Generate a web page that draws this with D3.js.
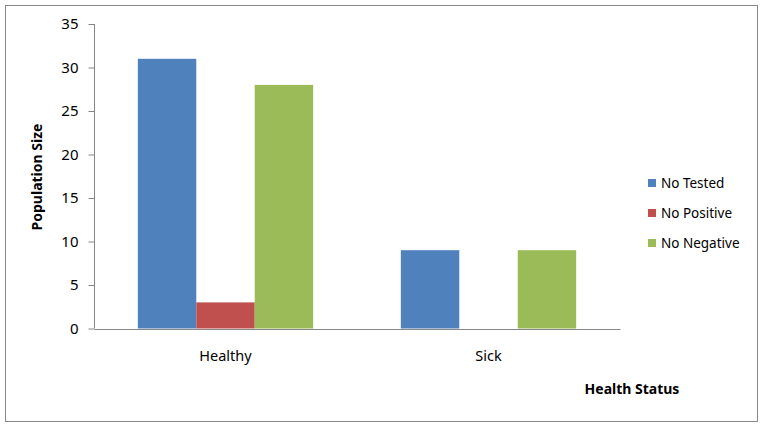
<!DOCTYPE html>
<html><head><meta charset="utf-8">
<script src="https://cdn.jsdelivr.net/npm/d3@7"></script>
<style>
html,body{margin:0;padding:0;background:#fff;}
svg{display:block;font-family:Tahoma,"Noto Sans","DejaVu Sans",sans-serif;}
</style></head>
<body>
<svg id="chart" width="763" height="427"></svg>
<script>
const categories = ["Healthy", "Sick"];
const seriesNames = ["No Tested", "No Positive", "No Negative"];
const noTested = [31, 9];
const noPositive = [3, 0];
const noNegative = [28, 9];
const yTicks = [0, 5, 10, 15, 20, 25, 30, 35];
const colors = ["#4f81bd", "#c0504d", "#9bbb59"];

const seriesValues = [noTested, noPositive, noNegative];
const svg = d3.select("#chart");

svg.append("rect").attr("x", 5.5).attr("y", 5.5).attr("width", 752).attr("height", 416)
  .attr("fill", "#fff").attr("stroke", "#888").attr("stroke-width", 1);

const plot = {left: 94, right: 620, top: 24, bottom: 328.5};
const x = d3.scaleBand().domain(categories).range([plot.left, plot.right]).paddingInner(0).paddingOuter(0);
const x1 = d3.scaleBand().domain(seriesNames).range([0, x.bandwidth()]).paddingInner(0).paddingOuter(0.75);
const y = d3.scaleLinear().domain([0, 35]).range([plot.bottom, plot.top]);

const fontSize = 14.5;
const table = categories.map((c, i) => ({cat: c, vals: seriesNames.map((s, j) => ({s, v: seriesValues[j][i], j}))}));

const g = svg.append("g");
g.selectAll("g.cat").data(table).join("g").attr("class", "cat")
  .attr("transform", d => `translate(${x(d.cat)},0)`)
  .selectAll("rect").data(d => d.vals).join("rect")
  .attr("x", d => x1(d.s)).attr("width", x1.bandwidth())
  .attr("y", d => y(d.v)).attr("height", d => y(0) - y(d.v))
  .attr("fill", d => colors[d.j]);

// y axis
const yAxis = d3.axisLeft(y).tickValues(yTicks).tickSize(6).tickPadding(10).tickFormat(d3.format("d"));
const ya = svg.append("g").attr("transform", `translate(${plot.left + 0.5},0)`).call(yAxis);
ya.select(".domain").attr("stroke", "#868686").attr("d", `M-0,${plot.bottom}V${plot.top}`);
ya.selectAll(".tick line").attr("stroke", "#868686");
ya.selectAll(".tick text").attr("font-size", 15).attr("fill", "#000")
  .attr("font-family", "Tahoma,'Noto Sans',sans-serif");

// x axis
const xAxis = d3.axisBottom(x).tickSize(0).tickPadding(22);
const xa = svg.append("g").attr("transform", `translate(0,${plot.bottom + 0.5})`).call(xAxis);
xa.select(".domain").attr("stroke", "#868686");
xa.selectAll(".tick text").attr("font-size", fontSize).attr("fill", "#000")
  .attr("font-family", "Tahoma,'Noto Sans',sans-serif");

// axis titles
svg.append("text").attr("transform", "translate(42,177) rotate(-90)")
  .attr("text-anchor", "middle").attr("font-weight", "bold").attr("font-size", 14)
  .text("Population Size");
svg.append("text").attr("x", 632).attr("y", 394)
  .attr("text-anchor", "middle").attr("font-weight", "bold").attr("font-size", 14)
  .text("Health Status");

// legend
const leg = svg.append("g").attr("transform", "translate(648,183)");
const li = leg.selectAll("g").data(seriesNames).join("g")
  .attr("transform", (d, i) => `translate(0,${i * 30})`);
li.append("rect").attr("x", 0).attr("y", -4).attr("width", 8).attr("height", 8)
  .attr("fill", (d, i) => colors[i]);
li.append("text").attr("x", 13).attr("y", 5).attr("font-size", 13.5).attr("fill", "#000").text(d => d);
</script>
</body></html>
